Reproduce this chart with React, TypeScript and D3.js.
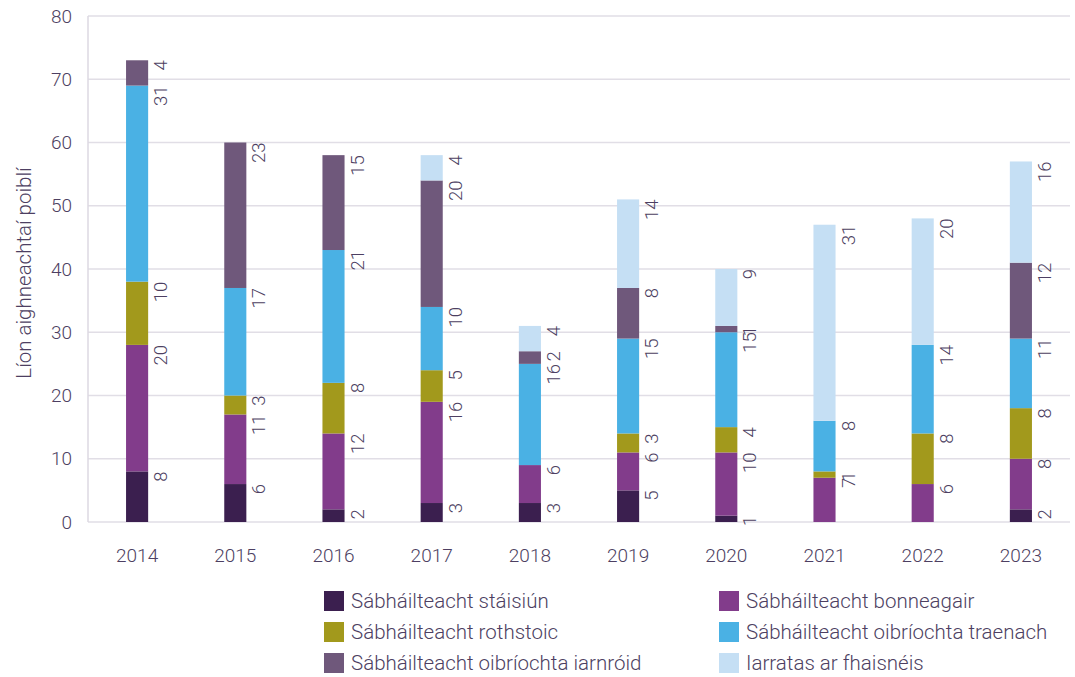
import React from "react";
import * as d3 from "d3";

const years = ["2014", "2015", "2016", "2017", "2018", "2019", "2020", "2021", "2022", "2023"];
const seriesNames = [
  "Sábháilteacht stáisiún",
  "Sábháilteacht bonneagair",
  "Sábháilteacht rothstoic",
  "Sábháilteacht oibríochta traenach",
  "Sábháilteacht oibríochta iarnróid",
  "Iarratas ar fhaisnéis",
];
const stationSafety = [8, 6, 2, 3, 3, 5, 1, 0, 0, 2];
const infraSafety = [20, 11, 12, 16, 6, 6, 10, 7, 6, 8];
const rollingStock = [10, 3, 8, 5, 0, 3, 4, 1, 8, 8];
const trainOps = [31, 17, 21, 10, 16, 15, 15, 8, 14, 11];
const railOps = [4, 23, 15, 20, 2, 8, 1, 0, 0, 12];
const infoRequests = [0, 0, 0, 4, 4, 14, 9, 31, 20, 16];
const yTicks = [0, 10, 20, 30, 40, 50, 60, 70, 80];
const colors = ["#3b1f4f", "#823c8b", "#a2991c", "#4ab1e4", "#6f587b", "#c5dff4"];
const yTitle = "Líon aighneachtaí poiblí";

const allSeries = [stationSafety, infraSafety, rollingStock, trainOps, railOps, infoRequests];

export default function App() {
  const W = 1075, H = 677;
  const left = 88, right = 1070, top = 16, bottom = 522;
  const x = d3.scaleBand<string>().domain(years).range([left, right]).paddingInner(0.775).paddingOuter(0.3875);
  const y = d3.scaleLinear().domain([0, 80]).range([bottom, top]);
  const rows = years.map((yr, i) => {
    const o: any = { year: yr };
    seriesNames.forEach((s, k) => (o[s] = allSeries[k][i]));
    return o;
  });
  const stacked = d3.stack<any>().keys(seriesNames)(rows);
  const textColor = "#4d3f62";
  const font = "Roboto, 'DejaVu Sans', sans-serif";

  return (
    <svg width={W} height={H} style={{ position: "absolute", left: 0, top: 0 }} fontFamily={font}>
      {yTicks.map((t) => (
        <g key={t}>
          <line x1={left} x2={right} y1={y(t)} y2={y(t)} stroke="#e1dee6" strokeWidth={1.5} />
          <text x={72} y={y(t)} dy="0.35em" textAnchor="end" fontSize={19} fontWeight={300} fill={textColor}>
            {t}
          </text>
        </g>
      ))}
      <line x1={left} x2={left} y1={top} y2={bottom} stroke="#dcd9e2" strokeWidth={1.5} />
      <text
        transform={`translate(31,${(top + bottom) / 2 + 4}) rotate(-90)`}
        textAnchor="middle"
        fontSize={20.5}
        fontWeight={300}
        fill={textColor}
      >
        {yTitle}
      </text>
      {stacked.map((layer, k) => (
        <g key={k} fill={colors[k]}>
          {layer.map((d, i) =>
            d[1] - d[0] > 0 ? (
              <rect key={i} x={x(years[i])} width={x.bandwidth()} y={y(d[1])} height={y(d[0]) - y(d[1])} />
            ) : null
          )}
        </g>
      ))}
      {stacked.map((layer, k) => (
        <g key={"l" + k}>
          {layer.map((d, i) =>
            d[1] - d[0] > 0 ? (
              <text
                key={i}
                transform={`translate(${(x(years[i]) as number) + x.bandwidth() + 19},${y(d[1])}) rotate(-90)`}
                textAnchor="end"
                fontSize={18.5}
                fontWeight={300}
                fill={textColor}
              >
                {d[1] - d[0]}
              </text>
            ) : null
          )}
        </g>
      ))}
      {years.map((yr) => (
        <text
          key={yr}
          x={(x(yr) as number) + x.bandwidth() / 2}
          y={562}
          textAnchor="middle"
          fontSize={19}
          fontWeight={300}
          fill={textColor}
        >
          {yr}
        </text>
      ))}
      {seriesNames.map((s, k) => {
        const col = k % 2, row = Math.floor(k / 2);
        const lx = col === 0 ? 324 : 719;
        const ly = 591 + row * 31;
        return (
          <g key={s}>
            <rect x={lx} y={ly} width={20} height={20} fill={colors[k]} />
            <text x={lx + 27} y={ly + 10} dy="0.35em" fontSize={20.5} fontWeight={300} fill={textColor}>
              {s}
            </text>
          </g>
        );
      })}
    </svg>
  );
}
